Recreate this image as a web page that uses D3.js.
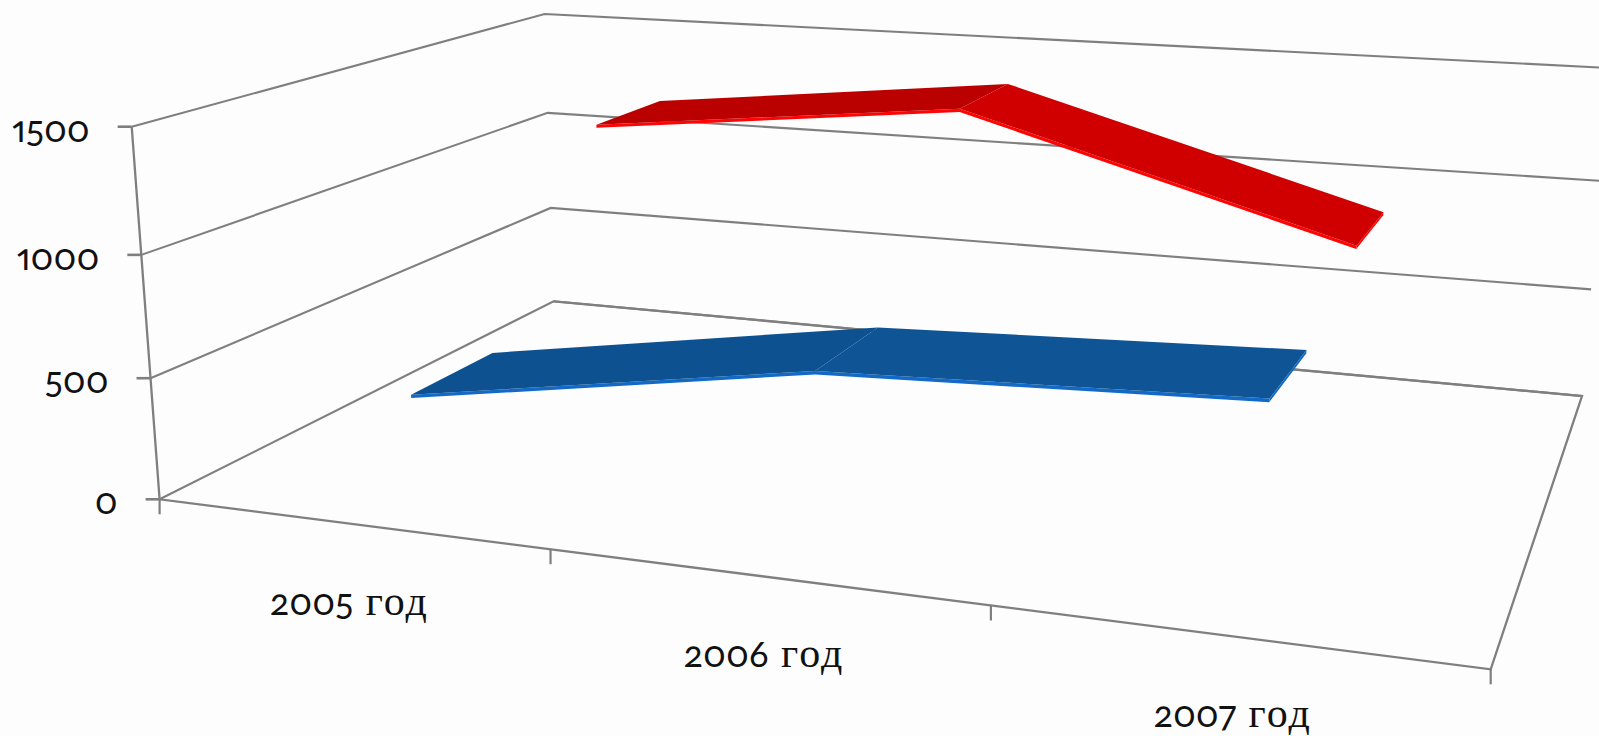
<!DOCTYPE html>
<html>
<head>
<meta charset="utf-8">
<script src="https://cdn.jsdelivr.net/npm/d3@7"></script>
<style>
    html, body { margin: 0; padding: 0; background: #fdfdfd; overflow: hidden; }
    svg { display: block; }
    text { fill: #111; }
    /* only these sans fonts carry oldstyle figures */
    .figures { font-family: Lato, sans-serif; font-feature-settings: "onum", "pnum"; font-size: 36px; }
    .words { font-family: "Liberation Serif", serif; font-size: 42px; letter-spacing: 2px; }
</style>
</head>
<body>
<div id="main_svg"></div>
<script>
// chart values
var categories = ["2005 год", "2006 год", "2007 год"];
var seriesNames = ["blue", "red"];
var blueValues = [378, 652, 722];
var redValues = [1202, 1380, 915];
var yTicks = [0, 500, 1000, 1500];

var width = 1599, height = 736;

// floor and top plane of the 3d box, as seen on the screen
var floor = [[159.6, 499.3], [1490.7, 669.3], [1582, 396], [553.6, 301.3]];
var top_ = [[131.7, 126.7], [1522.4, 244], [1610, 68], [544.6, 14]];

// perspective map of the unit square on a quad
function homography(q) {
    var dx1 = q[1][0] - q[2][0], dx2 = q[3][0] - q[2][0], sx = q[0][0] - q[1][0] + q[2][0] - q[3][0];
    var dy1 = q[1][1] - q[2][1], dy2 = q[3][1] - q[2][1], sy = q[0][1] - q[1][1] + q[2][1] - q[3][1];
    var det = dx1 * dy2 - dx2 * dy1;
    var g = (sx * dy2 - dx2 * sy) / det, h = (dx1 * sy - sx * dy1) / det;
    var a = q[1][0] - q[0][0] + g * q[1][0], b = q[3][0] - q[0][0] + h * q[3][0];
    var d = q[1][1] - q[0][1] + g * q[1][1], e = q[3][1] - q[0][1] + h * q[3][1];
    return function (u, v) {
        var w = g * u + h * v + 1;
        return [(a * u + b * v + q[0][0]) / w, (d * u + e * v + q[0][1]) / w];
    };
}

var floorMap = homography(floor), topMap = homography(top_);

// scales: category along the front edge, series in depth, value upwards
var x = d3.scaleBand().domain(categories).range([0, 1]);
var depth = d3.scaleBand().domain(seriesNames).range([0, 0.98]).padding(0.59).paddingOuter(0.31);
var y = d3.scaleLinear().domain(yTicks).range([0, 0.325, 0.656, 1]);

// the ribbons sit slightly off the band centres in the source picture
var xMark = d3.scaleOrdinal().domain(categories).range([0.163, 0.501, 0.827]);
var markShear = 0.024;

function project(u, v, value) {
    var p0 = floorMap(u, v), p1 = topMap(u, v), t = y(value);
    return [p0[0] + (p1[0] - p0[0]) * t, p0[1] + (p1[1] - p0[1]) * t];
}

function projectMark(cat, v, value) {
    return project(xMark(cat) + markShear * y(value), v, value);
}

var svg = d3.select("#main_svg").append("svg")
    .attr("width", width)
    .attr("height", height);

var line = d3.line();
var axisColor = "#7f7f7f";

// back wall and side wall grid lines
svg.selectAll(".grid")
    .data(yTicks)
    .enter().append("path")
    .attr("class", "grid")
    .attr("fill", "none")
    .attr("stroke", axisColor)
    .attr("stroke-width", 2.1)
    .attr("d", function (d) {
        return line([project(0, 0, d), project(0, 1, d), project(1, 1, d)]);
    });

// floor edges and value axis
svg.append("path")
    .attr("fill", "none")
    .attr("stroke", axisColor)
    .attr("stroke-width", 2.3)
    .attr("d", line([project(0, 1, 0), project(1, 1, 0), project(1, 0, 0), project(0, 0, 0), project(0, 0, 1500)]));

// value ticks
svg.selectAll(".ytick")
    .data(yTicks)
    .enter().append("line")
    .attr("stroke", axisColor)
    .attr("stroke-width", 2.6)
    .attr("x1", function (d) { return project(0, 0, d)[0] - 14; })
    .attr("x2", function (d) { return project(0, 0, d)[0]; })
    .attr("y1", function (d) { return project(0, 0, d)[1]; })
    .attr("y2", function (d) { return project(0, 0, d)[1]; });

// category ticks
var xTickPos = categories.map(function (c) { return x(c); }).concat([1]);
svg.selectAll(".xtick")
    .data(xTickPos)
    .enter().append("line")
    .attr("stroke", axisColor)
    .attr("stroke-width", 2.2)
    .attr("x1", function (d) { return project(d, 0, 0)[0]; })
    .attr("x2", function (d) { return project(d, 0, 0)[0]; })
    .attr("y1", function (d) { return project(d, 0, 0)[1]; })
    .attr("y2", function (d) { return project(d, 0, 0)[1] + 15; });

// the two ribbons, back one first
function drawRibbon(name, values, surface, edge) {
    var v0 = depth(name), v1 = v0 + depth.bandwidth(), thick = 14;
    var last = categories[categories.length - 1], lastValue = values[values.length - 1];
    var g = svg.append("g").attr("class", "ribbon-" + name);

    // lit edge along the front
    g.append("path")
        .attr("fill", edge)
        .attr("d", line(categories.map(function (c, i) { return projectMark(c, v0, values[i]); })
            .concat(categories.map(function (c, i) { return projectMark(c, v0, values[i] - thick); }).reverse())) + "Z");

    // lit edge at the end of the ribbon
    g.append("path")
        .attr("fill", edge)
        .attr("d", line([projectMark(last, v0, lastValue), projectMark(last, v1, lastValue),
            projectMark(last, v1, lastValue - thick), projectMark(last, v0, lastValue - thick)]) + "Z");

    // one top face per segment
    g.selectAll(".face")
        .data(d3.pairs(d3.range(categories.length)))
        .enter().append("path")
        .attr("class", "face")
        .attr("fill", function (d, i) { return surface[i]; })
        .attr("d", function (d) {
            var a = categories[d[0]], b = categories[d[1]];
            return line([projectMark(a, v0, values[d[0]]), projectMark(b, v0, values[d[1]]),
                projectMark(b, v1, values[d[1]]), projectMark(a, v1, values[d[0]])]) + "Z";
        });
}

drawRibbon("red", redValues, ["#bb0000", "#d10000"], "#fb0505");
drawRibbon("blue", blueValues, ["#0e5190", "#0f5596"], "#1269c6");

// figures and words go in different fonts
function labelParts(sel, text) {
    var m = text.match(/^(\d+)(.*)$/);
    sel.append("tspan").attr("class", "figures").text(m[1]);
    if (m[2]) sel.append("tspan").attr("class", "words").text(m[2]);
}

// value labels
svg.selectAll(".ylabel")
    .data(yTicks)
    .enter().append("text")
    .attr("class", "ylabel")
    .attr("text-anchor", "end")
    .attr("x", function (d) { return project(0, 0, d)[0] - 42; })
    .attr("y", function (d) { return project(0, 0, d)[1] + 15; })
    .each(function (d) { labelParts(d3.select(this), String(d)); });

// category labels
svg.selectAll(".xlabel")
    .data(categories)
    .enter().append("text")
    .attr("class", "xlabel")
    .attr("text-anchor", "middle")
    .attr("x", function (d) { return project(x(d) + x.bandwidth() / 2, 0, 0)[0]; })
    .attr("y", function (d) { return project(x(d) + x.bandwidth() / 2, 0, 0)[1] + 91; })
    .each(function (d) { labelParts(d3.select(this), d); });
</script>
</body>
</html>
